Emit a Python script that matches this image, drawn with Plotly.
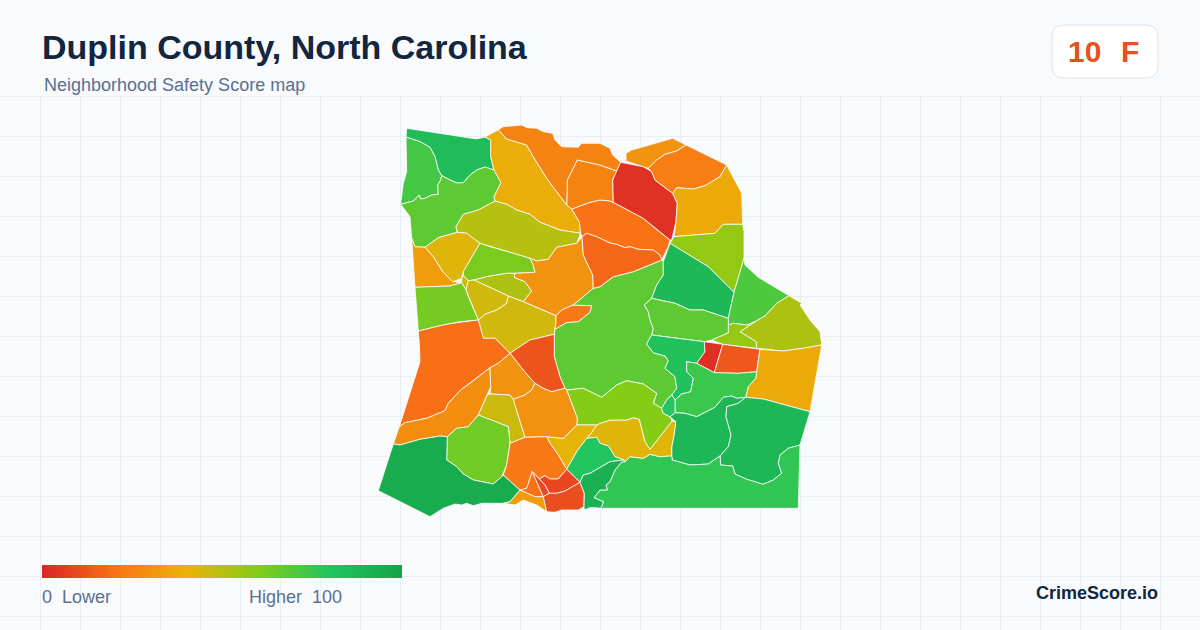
import plotly.graph_objects as go
from plotly.colors import sample_colorscale

# score colour ramp
score_stops = [0, 0.2, 0.4, 0.6, 0.8, 1]
score_colors = ["rgb(220,38,38)", "rgb(249,115,22)", "rgb(234,179,8)", "rgb(132,204,22)", "rgb(34,197,94)", "rgb(22,163,74)"]
legend_scores = list(range(0, 101))

# tract outlines
nw_green = [(406.7,128.3),(476.7,139),(485,137),(490.7,140),(490.7,156.7),(494,170),(485,167),(476.7,170),(470,175),(463.3,182.7),(457.3,183),(450,180),(441.7,175.7),(438.3,170),(435,156.7),(430,147.3),(420,141.7),(406,137)]
west_strip = [(406,137),(420,141.7),(430,147.3),(435,156.7),(438.3,170),(441.7,175.7),(440.7,180),(437.7,185),(438.3,194.3),(431.7,195),(425,198.3),(420.7,199),(419.3,195),(413.3,201),(400.7,204.3),(403.3,183.3),(406.7,171.7),(406.7,156.7)]
west_wide = [(400.7,204.3),(410,216.7),(411.7,238.3),(415,246.7),(425,247.3),(438.3,237.7),(457.3,232.3),(456,226.7),(463.3,214.3),(478.3,210),(495,201),(494,196.7),(501,182.7),(494,170),(485,167),(476.7,170),(470,175),(463.3,182.7),(457.3,183),(450,180),(441.7,175.7),(440.7,180),(437.7,185),(438.3,194.3),(431.7,195),(425,198.3),(420.7,199),(419.3,195),(413.3,201)]
north_amber = [(485,137),(498.3,129.7),(506.7,139),(526.7,145),(533.3,156.7),(546.7,178.3),(566.7,205),(571.7,209),(579.3,221.7),(580.7,233.3),(560,230),(540,222.3),(530,214.3),(516.7,210),(506.7,204.3),(495,201),(494,196.7),(501,182.7),(494,170),(490.7,156.7),(490.7,140)]
olive_band = [(457.3,232.3),(456,226.7),(463.3,214.3),(478.3,210),(495,201),(506.7,204.3),(516.7,210),(530,214.3),(540,222.3),(560,230),(580.7,233.3),(576.7,243.3),(556.7,247.3),(548.3,259.3),(536.7,261),(530,258.3),(510,252.3),(490,246.7),(480,243.3),(466.7,233.3)]
gold_west = [(425,247.3),(438.3,237.7),(457.3,232.3),(466.7,233.3),(480,243.3),(463.3,271.7),(461.7,278.3),(452.7,281.7),(442.7,271.7),(433.3,256.7)]
amber_west = [(411.7,238.3),(415,246.7),(425,247.3),(433.3,256.7),(442.7,271.7),(452.7,281.7),(461.7,282.7),(450,286),(415,287.3),(413.3,261.7)]
lime_mid = [(480,243.3),(490,246.7),(510,252.3),(530,258.3),(533.3,265),(535,272.3),(515,273.3),(506.7,273.3),(486.7,276.7),(474,280),(468.3,280.7),(463.3,275.7),(463.3,271.7)]
olive_lime = [(474,280),(486.7,276.7),(506.7,273.3),(515,273.3),(514.3,277.3),(525,281.7),(531.7,291),(523.3,301.7),(508.3,296)]
amber_centre = [(536.7,261),(548.3,259.3),(556.7,247.3),(576.7,243.3),(582,236.7),(583.3,255),(592.7,275),(593.3,288.3),(573.3,305),(561.7,310),(556,315.7),(523.3,301.7),(531.7,291),(525,281.7),(514.3,277.3),(515,273.3),(535,272.3),(533.3,265),(530,258.3)]
tiny_west = [(461.7,278.3),(463.3,275.7),(468.3,280.7),(466,290),(461.7,282.7)]
olive_small = [(468.3,280.7),(474,280),(508.3,296),(506.7,303.3),(496.7,310),(485,314.3),(478.3,320),(468.3,296.7),(466,290)]
olive_centre = [(478.3,320),(485,314.3),(496.7,310),(506.7,303.3),(508.3,296),(523.3,301.7),(556,315.7),(556,321.7),(555,329.3),(554.3,334.3),(530,340),(510,353.3),(495,338.3),(483.3,338.3)]
orange_sliver = [(556,315.7),(561.7,310),(573.3,305),(591.7,305.7),(590,312.3),(578.3,321.7),(566.7,322.7),(555,329.3),(556,321.7)]
big_green = [(555,329.3),(566.7,322.7),(578.3,321.7),(590,312.3),(591.7,305.7),(573.3,305),(593.3,288.3),(600,286.7),(613.3,276.7),(633.3,271.7),(650,265),(661.7,260),(663.3,261.7),(663.3,275),(656.7,285),(651.7,298.3),(644.3,305),(648.3,311.7),(650,320),(653.3,328.3),(651.7,335),(646.7,344),(653.3,352.7),(665,356),(668.3,360.7),(665,368.3),(675,376.7),(676.7,388.3),(671.7,395),(666.7,400),(661.7,408.3),(653.3,403.3),(656.7,393.3),(643.3,384),(626.7,380.7),(616.7,385),(601.7,397.3),(583.3,388.3),(566.7,390),(565,388.3),(560,376.7),(554.3,356.7),(554.3,334.3)]
orange_north = [(571.7,209),(590,202.3),(600,200),(610,201),(613.3,202.3),(643.3,218.3),(655,228.3),(670,240),(668.3,246.7),(661.7,260),(660,255),(653.3,250),(638.3,249.3),(630,246.7),(625,247.7),(616.7,244.3),(610,243),(596.7,236.7),(586.7,233.3),(582,236.7),(580.7,233.3),(579.3,221.7)]
orange_south = [(582,236.7),(586.7,233.3),(596.7,236.7),(610,243),(616.7,244.3),(625,247.7),(630,246.7),(638.3,249.3),(653.3,250),(660,255),(661.7,260),(650,265),(633.3,271.7),(613.3,276.7),(600,286.7),(593.3,288.3),(592.7,275),(583.3,255)]
orange_block = [(577.3,160),(600,165),(616.7,171),(612.7,180),(613.3,202.3),(610,201),(600,200),(590,202.3),(571.7,209),(566.7,205),(567.3,180)]
north_strip = [(498.3,129.7),(503.3,126.7),(511,126),(522,125),(527,127.7),(536.7,128.3),(543.3,131.7),(552.7,133.3),(555,140),(561.7,146.7),(578.3,147.3),(581.7,143.3),(600,143.3),(610,148.3),(612.7,155),(620.7,162.3),(616.7,171),(600,165),(577.3,160),(567.3,180),(566.7,205),(546.7,178.3),(533.3,156.7),(526.7,145),(506.7,139)]
red_north = [(620.7,162.3),(643.3,166.7),(651.7,171.7),(655,180),(672.7,193.3),(677.3,203.3),(676,221.7),(671.7,240),(670,240),(655,228.3),(643.3,218.3),(613.3,202.3),(612.7,180),(616.7,171)]
amber_ne = [(626,153.3),(631.7,150),(672.7,138.3),(686,145),(676.7,151),(665,154.3),(656.7,160),(648.3,168.3),(643.3,166.7),(626,161)]
orange_ne = [(686,145),(726.7,165),(720,176.7),(705,185.7),(693.3,189),(676.7,187.7),(672.7,193.3),(655,180),(651.7,171.7),(648.3,168.3),(656.7,160),(665,154.3),(676.7,151)]
amber_east = [(726.7,165),(741.7,193.3),(742.7,224.3),(723.3,224.3),(715,233.3),(696.7,235),(674,236.7),(676,221.7),(677.3,203.3),(672.7,193.3),(676.7,187.7),(693.3,189),(705,185.7),(720,176.7)]
lime_east = [(674,236.7),(696.7,235),(715,233.3),(723.3,224.3),(742.7,224.3),(744,231.7),(744,258.3),(734,292.3),(708.3,266.7),(670,243.3)]
green_east = [(670,243.3),(708.3,266.7),(734,292.3),(728.3,318.3),(703.3,310),(690,310),(675,303.3),(651.7,298.3),(656.7,285),(663.3,275),(663.3,261.7),(668.3,246.7)]
green_ne = [(744,258.3),(745,265),(758.3,277.3),(789,295.7),(776.7,303.3),(765,316),(755,321.7),(746.7,325),(733.3,323.3),(728.3,325),(728.3,318.3),(734,292.3)]
olive_east = [(789,295.7),(801.7,303.3),(800,305),(810,320),(820,331.7),(821.7,345),(803.3,348.3),(783.3,351),(756.7,348.3),(756,341.7),(740,331.7),(755,321.7),(765,316),(776.7,303.3)]
lime_small = [(728.3,325),(733.3,323.3),(746.7,325),(755,321.7),(740,331.7),(756,341.7),(756.7,348.3),(722.7,344.3),(711.7,340),(728.3,332.7)]
green_band = [(651.7,298.3),(675,303.3),(690,310),(703.3,310),(728.3,318.3),(728.3,325),(728.3,332.7),(711.7,340),(704.3,341.7),(651.7,335),(653.3,328.3),(650,320),(648.3,311.7),(644.3,305)]
bright_green = [(651.7,335),(704.3,341.7),(705,351.7),(696.7,363.3),(686.7,361.7),(686.7,371.7),(693.3,378.3),(690.7,391.7),(681.7,394),(675,400),(671.7,395),(676.7,388.3),(675,376.7),(665,368.3),(668.3,360.7),(665,356),(653.3,352.7),(646.7,344)]
red_small = [(704.3,341.7),(722.7,344.3),(714.3,372.7),(696.7,363.3),(705,351.7)]
orange_red = [(722.7,344.3),(760,349.3),(756.7,371.7),(738.3,373.3),(714.3,372.7)]
amber_se = [(760,349.3),(783.3,351),(803.3,348.3),(821.7,345),(810,411.7),(763.3,399),(745.7,397.3),(748.3,386.7),(755.7,378.3),(756.7,371.7)]
green_inner = [(686.7,361.7),(696.7,363.3),(714.3,372.7),(738.3,373.3),(756.7,371.7),(755.7,378.3),(748.3,386.7),(745.7,397.3),(736.7,398.3),(731.7,396),(723.3,397.3),(715,407.3),(696.7,416.7),(685,413.3),(675,412.7),(675,400),(681.7,394),(690.7,391.7),(693.3,378.3),(686.7,371.7)]
green_mid = [(670,416.7),(675,412.7),(685,413.3),(696.7,416.7),(715,407.3),(723.3,397.3),(731.7,396),(736.7,398.3),(745.7,397.3),(738.3,403.3),(726.7,406.7),(726,416.7),(731,435),(728.3,446.7),(720,456),(708.3,464),(690,465),(672.3,460),(671.7,455.7),(671.7,446.7),(674,435),(675.7,421.7)]
green_big_se = [(726.7,406.7),(738.3,403.3),(745.7,397.3),(763.3,399),(810,411.7),(800,445),(788.3,448.3),(780,455),(778.3,463.3),(781.7,473.3),(773.3,480),(763.3,484.3),(746.7,479.3),(735,474),(732.7,466),(720.7,465),(720,456),(728.3,446.7),(731,435),(726,416.7)]
green_south = [(800,445),(798.3,508.3),(600,508.3),(601.7,506.7),(603.3,501.7),(594,497.7),(600,490),(607.3,490),(606,485),(610,481.7),(615,470),(621.7,462),(625,461.7),(630,456.7),(643.3,458.3),(650,454.3),(660,456.7),(671.7,455.7),(672.3,460),(690,465),(708.3,464),(720,456),(720.7,465),(732.7,466),(735,474),(746.7,479.3),(763.3,484.3),(773.3,480),(781.7,473.3),(778.3,463.3),(780,455),(788.3,448.3)]
gold_south = [(596.7,425),(600,423.3),(610,420),(626.7,420),(633.3,417.7),(639.3,419.3),(645,441.7),(650,449.3),(672,421),(675.7,421.7),(674,435),(671.7,446.7),(671.7,455.7),(660,456.7),(650,454.3),(643.3,458.3),(630,456.7),(625,461.7),(624,460),(615,456.7),(608.3,446),(600,443.3),(596.7,437.3),(586.7,438.3),(590.5,434)]
lime_south = [(566.7,390),(583.3,388.3),(601.7,397.3),(616.7,385),(626.7,380.7),(643.3,384),(656.7,393.3),(653.3,403.3),(661.7,408.3),(663.3,413.3),(670,416.7),(672,421),(650,449.3),(645,441.7),(639.3,419.3),(633.3,417.7),(626.7,420),(610,420),(600,423.3),(596.7,425),(576.7,425),(577.3,418.3)]
gold_centre = [(546.7,436.7),(563.3,438.3),(576.7,425),(596.7,425),(590.5,434),(586.7,438.3),(576.7,451.7),(566.7,469.3),(558.3,455),(550,443.3)]
bright_south = [(566.7,469.3),(576.7,451.7),(586.7,438.3),(596.7,437.3),(600,443.3),(608.3,446),(615,456.7),(624,460),(610,461.7),(590,473.3),(583.3,475),(580,482.3)]
tiny_green = [(671.7,395),(675,400),(675,412.7),(670,416.7),(663.3,413.3),(661.7,408.3),(666.7,400)]
lime_west = [(415,287.3),(450,286),(461.7,282.7),(466,290),(468.3,296.7),(478.3,320),(460,321.7),(443.3,325),(418.3,331)]
orange_big = [(418.3,331),(443.3,325),(456.7,322.7),(478.3,320),(483.3,338.3),(495,338.3),(510,353.3),(498.3,363.3),(490,367.7),(470,383.3),(460.7,390),(448.3,403.3),(445,410.7),(426.7,418.3),(405,422.7),(399.3,426.7),(420,361.7),(419.3,343.3)]
amber_strip = [(399.3,426.7),(405,422.7),(426.7,418.3),(445,410.7),(448.3,403.3),(460.7,390),(470,383.3),(490,367.7),(490.7,386.7),(487.3,395),(478.3,415),(468.3,426.7),(456.7,428.3),(447.3,436.7),(440,436),(420,439.3),(400,445),(393.3,444)]
amber_mid = [(511.7,355),(523.3,370),(535,383.3),(531.7,390),(525,395),(513.3,399.3),(510,395),(490,394),(490.7,386.7),(490,367.7),(498.3,363.3),(510,353.3)]
red_orange = [(510,353.3),(530,340),(554.3,334.3),(554.3,356.7),(560,376.7),(565,388.3),(551.7,391.7),(543.3,388.3),(535,383.3),(523.3,370),(511.7,355)]
olive_gold = [(487.3,395),(490,394),(510,395),(513.3,399.3),(525,437.3),(510,443.3),(508.3,426.7),(493.3,420.7),(478.3,415)]
amber_large = [(513.3,399.3),(525,395),(531.7,390),(535,383.3),(543.3,388.3),(551.7,391.7),(565,388.3),(566.7,390),(577.3,418.3),(576.7,425),(563.3,438.3),(546.7,436.7),(525,437.3)]
lime_round = [(478.3,415),(493.3,420.7),(508.3,426.7),(510,443.3),(506.7,465),(501.7,476.7),(493.3,484),(473.3,480),(463.3,474),(456.7,466.7),(446.7,460),(447.3,436.7),(456.7,428.3),(468.3,426.7)]
dark_sw = [(393.3,444),(400,445),(420,439.3),(440,436),(447.3,436.7),(446.7,460),(456.7,466.7),(463.3,474),(473.3,480),(493.3,484),(501.7,476.7),(503.3,475),(520,490),(510,501.7),(503.3,503.3),(481.7,503.3),(473.3,505.7),(466.7,503.3),(461.7,505),(455,504),(443.3,508.3),(430,516.7),(378.3,490.7)]
orange_south_c = [(510,443.3),(525,437.3),(546.7,436.7),(550,443.3),(558.3,455),(566.7,469.3),(558.3,479),(550,479),(545,475.7),(539.3,479),(532.3,471.7),(526.7,488.3),(520,490),(503.3,475),(506.7,465)]
orange_wedge = [(532.3,471.7),(543.3,496.7),(535,496.7),(520,490),(526.7,488.3)]
amber_coast = [(510,501.7),(520,490),(535,496.7),(543.3,496.7),(546.7,511.7),(536.7,505),(523.3,500),(515,505),(510,504.3),(503.3,503.3)]
red_top = [(539.3,479),(545,475.7),(550,479),(558.3,479),(566.7,469.3),(580,482.3),(565,491),(556.7,493.3),(549.3,493.3),(545,485)]
red_sliver = [(532.3,471.7),(539.3,479),(545,485),(549.3,493.3),(543.3,496.7)]
red_bottom = [(543.3,496.7),(549.3,493.3),(556.7,493.3),(565,491),(580,482.3),(584.3,493.3),(584,506.7),(578.3,510),(561.7,510),(555,512.3),(546.7,511.7)]
dark_coast = [(580,482.3),(583.3,475),(590,473.3),(610,461.7),(624,460),(625,461.7),(621.7,462),(615,470),(610,481.7),(606,485),(607.3,490),(600,490),(594,497.7),(603.3,501.7),(601.7,506.7),(600,508.3),(596.7,507.7),(590,507.7),(584.3,510),(584,506.7),(584.3,493.3)]

tracts = [nw_green, west_strip, west_wide, north_amber, olive_band, gold_west, amber_west, lime_mid, olive_lime, amber_centre,
          tiny_west, olive_small, olive_centre, orange_sliver, big_green, orange_north, orange_south, orange_block, north_strip, red_north,
          amber_ne, orange_ne, amber_east, lime_east, green_east, green_ne, olive_east, lime_small, green_band, bright_green,
          red_small, orange_red, amber_se, green_inner, green_mid, green_big_se, green_south, gold_south, lime_south, gold_centre,
          bright_south, tiny_green, lime_west, orange_big, amber_strip, amber_mid, red_orange, olive_gold, amber_large, lime_round,
          dark_sw, orange_south_c, orange_wedge, amber_coast, red_top, red_sliver, red_bottom, dark_coast]
tract_scores = [85, 73, 68, 38, 50, 42, 33, 62, 52, 30,
                45, 45, 45, 22, 68, 20, 17, 25, 25, 3,
                30, 23, 37, 57, 87, 71, 52, 57, 68, 82,
                2, 13, 37, 75, 88, 88, 77, 42, 60, 41,
                80, 80, 63, 19, 28, 30, 12, 46, 29, 64,
                95, 22, 20, 33, 8, 9, 10, 92]

colorscale = [[s, c] for s, c in zip(score_stops, score_colors)]

fig = go.Figure()

# blank header band, the grid starts below it
fig.add_trace(go.Scatter(x=[0, 1200, 1200, 0, 0], y=[0, 0, 96, 96, 0], mode="lines", fill="toself",
                         fillcolor="#f8fafc", line=dict(width=0), hoverinfo="skip", showlegend=False))

# legend bar
fig.add_trace(go.Heatmap(z=[legend_scores], x0=43.78, dx=360 / 101, y0=571.5, dy=13, zmin=0, zmax=100,
                         colorscale=colorscale, showscale=False, hoverinfo="skip"))

for pts, score in zip(tracts, tract_scores):
    xs = [p[0] for p in pts] + [pts[0][0]]
    ys = [p[1] for p in pts] + [pts[0][1]]
    fig.add_trace(go.Scatter(x=xs, y=ys, mode="lines", fill="toself",
                             fillcolor=sample_colorscale(colorscale, [score / 100])[0],
                             line=dict(color="#ffffff", width=0.8), hoverinfo="skip", showlegend=False))

# score badge
badge = "M1064,25 H1146 Q1158,25 1158,37 V66 Q1158,78 1146,78 H1064 Q1052,78 1052,66 V37 Q1052,25 1064,25 Z"
fig.update_layout(
    width=1200, height=630, margin=dict(l=0, r=0, t=0, b=0),
    paper_bgcolor="#f8fafc", plot_bgcolor="#f8fafc", showlegend=False,
    font=dict(family="Liberation Sans, Arial, sans-serif"),
    xaxis=dict(range=[0, 1200], tick0=0.5, dtick=40, showgrid=True, gridcolor="#e8eef5", gridwidth=1,
               zeroline=False, showticklabels=False, ticks="", fixedrange=True),
    yaxis=dict(range=[630, 0], tick0=96.5, dtick=40, showgrid=True, gridcolor="#e8eef5", gridwidth=1,
               zeroline=False, showticklabels=False, ticks="", fixedrange=True),
    shapes=[
        dict(type="path", path=badge, xref="x", yref="y", layer="above",
             fillcolor="#ffffff", line=dict(color="#dde5ee", width=1)),
    ],
)

def label(x, y, text, size, color, bold=False, anchor="left"):
    fig.add_annotation(x=x, y=y, xref="x", yref="y", text=f"<b>{text}</b>" if bold else text, showarrow=False,
                       xanchor=anchor, yanchor="middle", font=dict(size=size, color=color), borderpad=0, borderwidth=0)

label(42, 47, "Duplin County, North Carolina", 34, "#12263f", bold=True)
label(44, 85, "Neighborhood Safety Score map", 18, "#5a7090")
label(1068, 51, "10", 30, "#e8501e", bold=True)
label(1121, 51, "F", 30, "#e8501e", bold=True)
label(42, 597, "0  Lower".replace("  ", "\u00a0\u00a0"), 18, "#5a7090")
label(249, 597, "Higher  100".replace("  ", "\u00a0\u00a0"), 18, "#5a7090")
label(1158, 593, "CrimeScore.io", 18, "#12263f", bold=True, anchor="right")

fig.write_html("out.html", config=dict(displayModeBar=False),
               post_script="document.body.style.margin='0';document.body.style.overflow='hidden';")
